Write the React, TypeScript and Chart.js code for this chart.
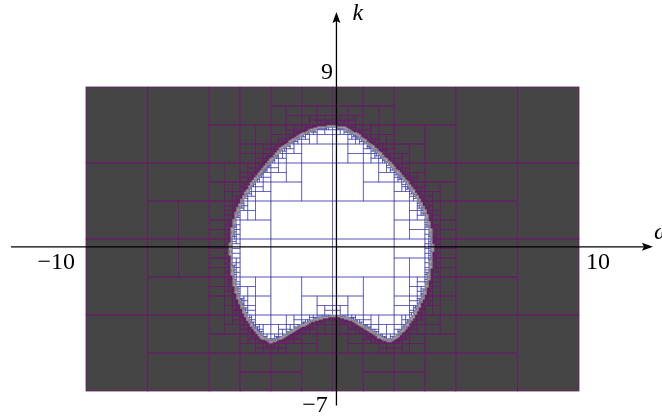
import React, { useEffect, useRef } from "react";
import { Chart, registerables } from "chart.js";

Chart.register(...registerables);

// Outline of the feasible set (omega, k), going round clockwise from the top
const SHAPE_OMEGA = [0.0, -0.65, -1.32, -2.07, -2.67, -3.21, -3.62, -3.91, -4.06, -4.13, -4.09, -4.0, -3.82, -3.55, -3.21, -2.87, -2.5, -2.05, -1.4, -0.9, -0.4, 0.1, 0.4, 0.85, 1.38, 1.91, 2.32, 2.59, 2.97, 3.33, 3.67, 3.87, 3.98, 4.05, 3.98, 3.8, 3.47, 3.0, 2.39, 1.71, 1.04, 0.43];
const SHAPE_K = [6.93, 6.84, 6.45, 5.75, 4.88, 4.01, 3.14, 2.27, 1.4, 0.53, -0.34, -1.21, -2.08, -2.95, -3.65, -4.17, -4.42, -4.2, -3.68, -3.33, -3.12, -3.05, -3.1, -3.3, -3.68, -4.17, -4.38, -4.17, -3.65, -2.95, -2.08, -1.21, -0.34, 0.53, 1.4, 2.27, 3.14, 4.01, 4.88, 5.75, 6.45, 6.86];

// Initial search box and paving parameters
const OMEGA_RANGE = [-10, 10];
const K_RANGE = [-7, 9];
const OUTER_PESSIMISM = 0.35;
const INNER_PESSIMISM = 0.12;
const EPSILON = 0.08;

// Axes (drawn arrows) and their labels, in data units
const AXIS_OMEGA = 0.16;
const AXIS_K = 0.59;
const H_AXIS_EXTENT = [-13.04, 13.0];
const V_AXIS_EXTENT = [-7.76, 12.95];
const TICK_TEXTS = ["\u221210", "10", "9", "\u22127"];
const TICK_OMEGA = [-11.21, 10.77, -0.22, -0.71];
const TICK_K = [-0.26, -0.26, 9.74, -7.79];
const AXIS_NAMES = ["\u03c9", "k"];
const AXIS_NAME_OMEGA = [13.39, 1.03];
const AXIS_NAME_K = [1.32, 12.84];

const SERIF = '"Liberation Serif", "DejaVu Serif", serif';

type Box = [number, number, number, number];

function segHitsRect(ax: number, ay: number, bx: number, by: number, x0: number, x1: number, y0: number, y1: number) {
  let t0 = 0, t1 = 1;
  const dx = bx - ax, dy = by - ay;
  const p = [-dx, dx, -dy, dy];
  const q = [ax - x0, x1 - ax, ay - y0, y1 - ay];
  for (let i = 0; i < 4; i++) {
    if (p[i] === 0) {
      if (q[i] < 0) return false;
    } else {
      const r = q[i] / p[i];
      if (p[i] < 0) {
        if (r > t1) return false;
        if (r > t0) t0 = r;
      } else {
        if (r < t0) return false;
        if (r < t1) t1 = r;
      }
    }
  }
  return true;
}

function pointInShape(x: number, y: number) {
  let inside = false;
  const n = SHAPE_OMEGA.length;
  for (let i = 0, j = n - 1; i < n; j = i++) {
    const xi = SHAPE_OMEGA[i], yi = SHAPE_K[i], xj = SHAPE_OMEGA[j], yj = SHAPE_K[j];
    if ((yi > y) !== (yj > y) && x < ((xj - xi) * (y - yi)) / (yj - yi) + xi) inside = !inside;
  }
  return inside;
}

function touchesBoundary(b: Box, m: number) {
  const n = SHAPE_OMEGA.length;
  for (let i = 0; i < n; i++) {
    const j = (i + 1) % n;
    if (segHitsRect(SHAPE_OMEGA[i], SHAPE_K[i], SHAPE_OMEGA[j], SHAPE_K[j], b[0] - m, b[1] + m, b[2] - m, b[3] + m)) return true;
  }
  return false;
}

function classify(b: Box) {
  const s = Math.max(b[1] - b[0], b[3] - b[2]);
  const centreIn = pointInShape((b[0] + b[1]) / 2, (b[2] + b[3]) / 2);
  const m = (centreIn ? INNER_PESSIMISM : OUTER_PESSIMISM) * s;
  if (touchesBoundary(b, m)) return 0;
  return centreIn ? 1 : -1;
}

function pave() {
  const inside: Box[] = [], outside: Box[] = [], boundary: Box[] = [];
  const stack: Box[] = [[OMEGA_RANGE[0], OMEGA_RANGE[1], K_RANGE[0], K_RANGE[1]]];
  while (stack.length) {
    const b = stack.pop() as Box;
    const w = b[1] - b[0], h = b[3] - b[2];
    const c = classify(b);
    if (c === 1) { inside.push(b); continue; }
    if (c === -1) { outside.push(b); continue; }
    if (Math.max(w, h) < EPSILON) { boundary.push(b); continue; }
    if (w >= h) {
      const mid = (b[0] + b[1]) / 2;
      stack.push([b[0], mid, b[2], b[3]], [mid, b[1], b[2], b[3]]);
    } else {
      const mid = (b[2] + b[3]) / 2;
      stack.push([b[0], b[1], b[2], mid], [b[0], b[1], mid, b[3]]);
    }
  }
  return { inside, outside, boundary };
}

const pavingPlugin = {
  id: "paving",
  beforeDatasetsDraw(chart: any) {
    const { ctx, scales } = chart;
    const xs = scales.x, ys = scales.y;
    const { inside, outside, boundary } = pave();
    const rect = (b: Box) => {
      const x0 = xs.getPixelForValue(b[0]), x1 = xs.getPixelForValue(b[1]);
      const y0 = ys.getPixelForValue(b[3]), y1 = ys.getPixelForValue(b[2]);
      return [x0, y0, x1 - x0, y1 - y0];
    };
    ctx.save();
    ctx.fillStyle = "#454545";
    outside.forEach((b) => { const r = rect(b); ctx.fillRect(r[0], r[1], r[2], r[3]); });
    ctx.fillStyle = "#ffffff";
    inside.forEach((b) => { const r = rect(b); ctx.fillRect(r[0], r[1], r[2], r[3]); });
    ctx.lineWidth = 0.8;
    ctx.strokeStyle = "#6a1a6a";
    outside.forEach((b) => { const r = rect(b); ctx.strokeRect(r[0], r[1], r[2], r[3]); });
    ctx.strokeStyle = "rgba(50,50,170,0.6)";
    inside.forEach((b) => { const r = rect(b); ctx.strokeRect(r[0], r[1], r[2], r[3]); });
    ctx.fillStyle = "#7a7a7a";
    boundary.forEach((b) => { const r = rect(b); ctx.fillRect(r[0], r[1], r[2], r[3]); });
    ctx.restore();
  },
  afterDraw(chart: any) {
    const { ctx, scales } = chart;
    const xs = scales.x, ys = scales.y;
    const px = (v: number) => xs.getPixelForValue(v);
    const py = (v: number) => ys.getPixelForValue(v);
    ctx.save();
    ctx.strokeStyle = "#000";
    ctx.fillStyle = "#000";
    ctx.lineWidth = 1.3;
    const hy = py(AXIS_K);
    const hx0 = px(H_AXIS_EXTENT[0]), hx1 = px(H_AXIS_EXTENT[1]);
    ctx.beginPath();
    ctx.moveTo(hx0, hy);
    ctx.lineTo(hx1 - 6, hy);
    ctx.stroke();
    ctx.beginPath();
    ctx.moveTo(hx1, hy);
    ctx.lineTo(hx1 - 11, hy - 4);
    ctx.lineTo(hx1 - 9, hy);
    ctx.lineTo(hx1 - 11, hy + 4);
    ctx.closePath();
    ctx.fill();
    const vx = px(AXIS_OMEGA);
    const vy0 = py(V_AXIS_EXTENT[0]), vy1 = py(V_AXIS_EXTENT[1]);
    ctx.beginPath();
    ctx.moveTo(vx, vy0);
    ctx.lineTo(vx, vy1 + 6);
    ctx.stroke();
    ctx.beginPath();
    ctx.moveTo(vx, vy1);
    ctx.lineTo(vx - 4, vy1 + 11);
    ctx.lineTo(vx, vy1 + 9);
    ctx.lineTo(vx + 4, vy1 + 11);
    ctx.closePath();
    ctx.fill();

    ctx.textAlign = "center";
    ctx.textBaseline = "middle";
    ctx.font = "24px " + SERIF;
    TICK_TEXTS.forEach((t, i) => ctx.fillText(t, px(TICK_OMEGA[i]), py(TICK_K[i])));
    ctx.font = "italic 24px " + SERIF;
    AXIS_NAMES.forEach((t, i) => ctx.fillText(t, px(AXIS_NAME_OMEGA[i]), py(AXIS_NAME_K[i])));
    ctx.restore();
  },
};

export default function App() {
  const ref = useRef<HTMLCanvasElement | null>(null);
  useEffect(() => {
    if (!ref.current) return;
    let alive = true;
    const chart = new Chart(ref.current, {
      type: "scatter",
      data: { datasets: [{ data: [], pointRadius: 0 }] },
      options: {
        animation: false,
        responsive: false,
        devicePixelRatio: 1,
        layout: { padding: { left: 86, right: 83, top: 87, bottom: 25 } },
        scales: {
          x: { type: "linear", min: OMEGA_RANGE[0], max: OMEGA_RANGE[1], display: false },
          y: { type: "linear", min: K_RANGE[0], max: K_RANGE[1], display: false },
        },
        plugins: { legend: { display: false }, tooltip: { enabled: false } },
      },
      plugins: [pavingPlugin],
    });
    const fonts = (document as any).fonts;
    if (fonts && fonts.load) {
      Promise.all([fonts.load("24px " + SERIF), fonts.load("italic 24px " + SERIF)])
        .then(() => { if (alive) chart.draw(); })
        .catch(() => {});
    }
    return () => { alive = false; chart.destroy(); };
  }, []);
  return (
    <div style={{ position: "fixed", left: 0, top: 0, width: 662, height: 416, background: "#fff", fontFamily: SERIF }}>
      <span style={{ position: "absolute", left: -1000, top: 0, fontSize: 24 }}>10 <i>k</i></span>
      <canvas ref={ref} width={662} height={416} />
    </div>
  );
}
